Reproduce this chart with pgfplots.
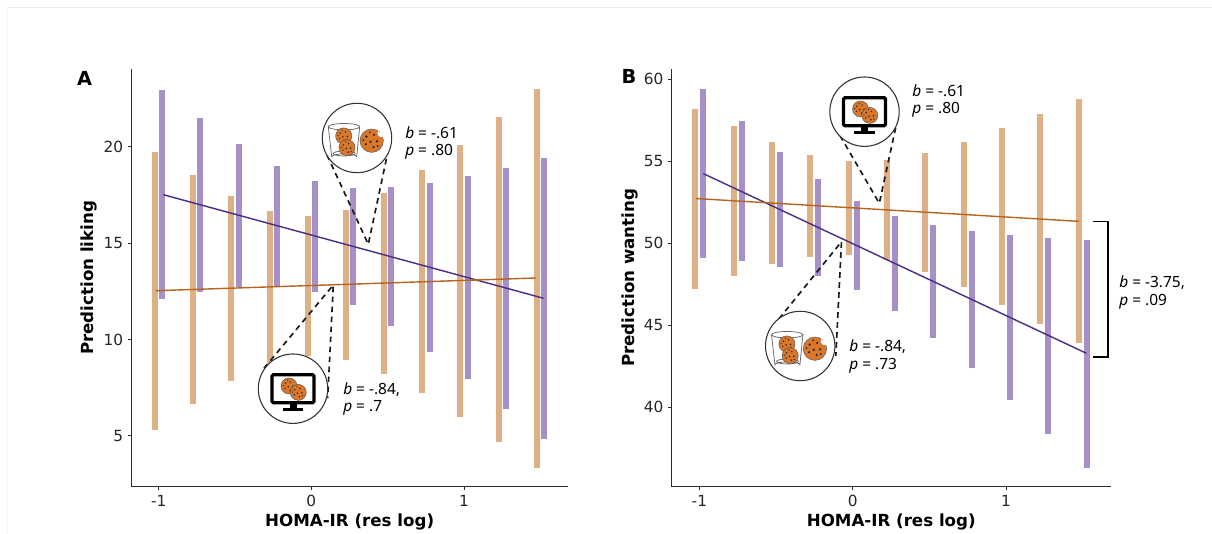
\documentclass[border=0pt]{standalone}
\usepackage{fontspec}
\setmainfont{DejaVu Sans}
\newfontfamily\notefont{Noto Sans}
\usepackage{pgfplots}
\pgfplotsset{compat=1.18}
\usepackage{pgfplotstable}
\definecolor{bartan}{HTML}{DEB085}
\definecolor{barpur}{HTML}{A78FC7}
\definecolor{linetan}{HTML}{B5651F}
\definecolor{linepur}{HTML}{4A2C85}
\definecolor{cookie}{HTML}{D9772B}
\definecolor{axdark}{HTML}{2B2B2B}

\pgfplotsset{
  panel/.style={
    scale only axis, height=313.3pt,
    axis x line=bottom, axis y line=left,
    axis line style={-, color=axdark, line width=1pt},
    tick style={color=axdark, line width=0.7pt},
    tick align=outside, major tick length=2.6pt,
    xtick={-1,0,1}, xticklabels={-1,0,1},
    ticklabel style={font=\fontsize{11.5}{13}\selectfont, color=black!85},
    /pgf/number format/assume math mode=true,
    every axis x label/.style={at={(axis description cs:0.5,0)},anchor=center,yshift=-26.2pt},
    every axis y label/.style={at={(axis description cs:0,0.5)},anchor=center,rotate=90,yshift=31.5pt},
    label style={font=\fontsize{12.5}{14}\bfseries\selectfont},
    unbounded coords=jump,
  },
  tanbar/.style={color=bartan, line width=4.5pt, forget plot},
  purbar/.style={color=barpur, line width=4.5pt, forget plot},
  tanline/.style={color=linetan, line width=1.05pt, forget plot},
  purline/.style={color=linepur, line width=1.05pt, forget plot},
}

\tikzset{leader/.style={black!90,line width=1.25pt,dash pattern=on 4.2pt off 3.3pt}}

\newcommand{\cookiedots}{%
  \fill[black!85] (-.45,-.35) circle[radius=.11] (.2,-.5) circle[radius=.1] (.45,.05) circle[radius=.11]
   (-.1,.1) circle[radius=.11] (-.5,.3) circle[radius=.1] (.15,.55) circle[radius=.11] (.5,.45) circle[radius=.09]
   (-.15,-.72) circle[radius=.08] (-.72,-.05) circle[radius=.08];}
\newcommand{\ck}[3]{\begin{scope}[shift={(#1,#2)},x=#3*0.75pt,y=-#3*0.75pt]
  \fill[cookie] (0,0) circle[radius=1]; \draw[black!70,line width=.3pt] (0,0) circle[radius=1]; \cookiedots
\end{scope}}
\newcommand{\bigcircle}{\draw[fill=white,draw=black!80,line width=.8pt] (0,0) circle[radius=34.7];}
\newcommand{\glassicon}[2]{\begin{scope}[shift={(#1,#2)}]
  \bigcircle
  \draw[black!60,line width=.55pt,fill=white] (-28.7,-11.3) -- (-25.3,18.7) arc[start angle=180,end angle=360,x radius=12.5,y radius=2.8] -- (2.7,-11.3);
  \draw[black!60,line width=.55pt] (-13,-11.3) ellipse[x radius=15.7,y radius=3.2];
  \draw[black!60,line width=.55pt] (-12.8,15.5) ellipse[x radius=11,y radius=2.5];
  \ck{-13.3}{-2}{8.1} \ck{-10}{9.7}{8.1} \ck{14.7}{2.7}{11.7}
  \fill[white] (24.5,-4.7) circle[radius=4];
  \fill[black!60] (22.5,-6) circle[radius=.5];
\end{scope}}
\newcommand{\monitoricon}[2]{\begin{scope}[shift={(#1,#2)}]
  \bigcircle
  \draw[black,line width=2.4pt,rounded corners=1pt,fill=white] (-21,-14) rectangle (21,14);
  \fill[black] (-3.5,15) rectangle (3.5,20);
  \fill[black] (-10.3,19.7) rectangle (10.3,22.5);
  \ck{-4}{-2.7}{8} \ck{5.3}{3.7}{8}
\end{scope}}
\newcommand{\note}[4]{%
  \node[anchor=west,inner sep=0pt,font=\notefont\fontsize{11.6}{13}\selectfont] at (#1,#2) {\textit{#3}#4};}

\begin{document}
\begin{tikzpicture}[x=0.75pt,y=0.75pt]
\fill[white] (0,0) rectangle (1212,534);
\useasboundingbox (0,0) rectangle (1212,534);

% Panel A
\begin{axis}[panel, at={(98.5pt,35.5pt)}, anchor=south west, width=327.5pt,
  xmin=-1.179, xmax=1.681, ymin=2.37, ymax=24.03,
  ytick={5,10,15,20},
  xlabel={HOMA-IR (res log)}, ylabel={Prediction liking}]
\addplot[tanbar] coordinates {
 (-1.024,5.31)(-1.024,19.74)(-1.024,nan)
 (-0.774,6.66)(-0.774,18.51)(-0.774,nan)
 (-0.524,7.87)(-0.524,17.46)(-0.524,nan)
 (-0.274,8.77)(-0.274,16.68)(-0.274,nan)
 (-0.024,9.15)(-0.024,16.40)(-0.024,nan)
 (0.226,8.96)(0.226,16.73)(0.226,nan)
 (0.476,8.23)(0.476,17.60)(0.476,nan)
 (0.726,7.21)(0.726,18.77)(0.726,nan)
 (0.976,6.00)(0.976,20.10)(0.976,nan)
 (1.226,4.71)(1.226,21.54)(1.226,nan)
 (1.476,3.36)(1.476,23.00)};
\addplot[purbar] coordinates {
 (-0.976,12.08)(-0.976,22.92)(-0.976,nan)
 (-0.726,12.47)(-0.726,21.47)(-0.726,nan)
 (-0.476,12.71)(-0.476,20.15)(-0.476,nan)
 (-0.226,12.78)(-0.226,19.01)(-0.226,nan)
 (0.024,12.48)(0.024,18.24)(0.024,nan)
 (0.274,11.77)(0.274,17.87)(0.274,nan)
 (0.524,10.69)(0.524,17.89)(0.524,nan)
 (0.774,9.37)(0.774,18.12)(0.774,nan)
 (1.024,7.94)(1.024,18.48)(1.024,nan)
 (1.274,6.42)(1.274,18.91)(1.274,nan)
 (1.524,4.86)(1.524,19.41)};
\addplot[purline] coordinates {(-0.97,17.51)(1.52,12.14)};
\addplot[tanline] coordinates {(-1.02,12.53)(1.47,13.19)};
\end{axis}

% Panel B
\begin{axis}[panel, at={(503.7pt,35.5pt)}, anchor=south west, width=329.5pt,
  xmin=-1.181, xmax=1.684, ymin=35.14, ymax=60.63,
  ytick={40,45,50,55,60},
  xlabel={HOMA-IR (res log)}, ylabel={Prediction wanting}]
\addplot[tanbar] coordinates {
 (-1.026,47.18)(-1.026,58.21)(-1.026,nan)
 (-0.776,48.02)(-0.776,57.13)(-0.776,nan)
 (-0.526,48.71)(-0.526,56.15)(-0.526,nan)
 (-0.276,49.18)(-0.276,55.40)(-0.276,nan)
 (-0.026,49.30)(-0.026,55.02)(-0.026,nan)
 (0.224,48.97)(0.224,55.08)(0.224,nan)
 (0.474,48.24)(0.474,55.50)(0.474,nan)
 (0.724,47.30)(0.724,56.20)(0.724,nan)
 (0.974,46.23)(0.974,57.01)(0.974,nan)
 (1.224,45.07)(1.224,57.88)(1.224,nan)
 (1.474,43.89)(1.474,58.80)};
\addplot[purbar] coordinates {
 (-0.974,49.09)(-0.974,59.43)(-0.974,nan)
 (-0.724,48.89)(-0.724,57.46)(-0.724,nan)
 (-0.474,48.55)(-0.474,55.59)(-0.474,nan)
 (-0.224,48.00)(-0.224,53.92)(-0.224,nan)
 (0.026,47.14)(0.026,52.57)(0.026,nan)
 (0.276,45.88)(0.276,51.66)(0.276,nan)
 (0.526,44.23)(0.526,51.09)(0.526,nan)
 (0.776,42.38)(0.776,50.72)(0.776,nan)
 (1.026,40.43)(1.026,50.50)(1.026,nan)
 (1.276,38.37)(1.276,50.34)(1.276,nan)
 (1.526,36.30)(1.526,50.21)};
\addplot[purline] coordinates {(-0.974,54.24)(1.524,43.28)};
\addplot[tanline] coordinates {(-1.021,52.72)(1.475,51.33)};
\end{axis}

% Annotations, in reference pixels from the top left
\begin{scope}[shift={(0,534)},x=0.75pt,y=-0.75pt]
  \draw[black!8,line width=.7pt] (7,7.3) -- (1212,7.3);
  \draw[black!4,line width=.5pt] (7.3,7.3) -- (7.3,534);
  \node[font=\fontsize{14.5}{16}\bfseries\selectfont] at (84.5,78) {A};
  \node[font=\fontsize{14.5}{16}\bfseries\selectfont] at (629,76) {B};

  \draw[leader] (327,155) -- (368.3,244.3) -- (390,142);
  \draw[leader] (264,368.3) -- (333.3,285) -- (327.7,398);
  \glassicon{357}{138}
  \monitoricon{293}{388.7}
  \note{405}{133}{b}{ = -.61}
  \note{405}{152}{p}{ = .80}
  \note{343}{389.5}{b}{ = -.84,}
  \note{343}{407.5}{p}{ = .7}

  \draw[leader] (835,127) -- (879.3,203.3) -- (898.2,116);
  \draw[leader] (772.6,326.7) -- (841.5,241.7) -- (835.8,356);
  \monitoricon{864.5}{111.7}
  \glassicon{800.2}{346}
  \note{912}{91}{b}{ = -.61}
  \note{912}{110}{p}{ = .80}
  \note{849}{346.5}{b}{ = -.84,}
  \note{849}{365.5}{p}{ = .73}

  \draw[black,line width=1.1pt] (1093,221.3) -- (1108,221.3) -- (1108,357) -- (1093,357);
  \note{1119}{283}{b}{ = -3.75,}
  \note{1119}{301.5}{p}{ = .09}
\end{scope}
\end{tikzpicture}
\end{document}
